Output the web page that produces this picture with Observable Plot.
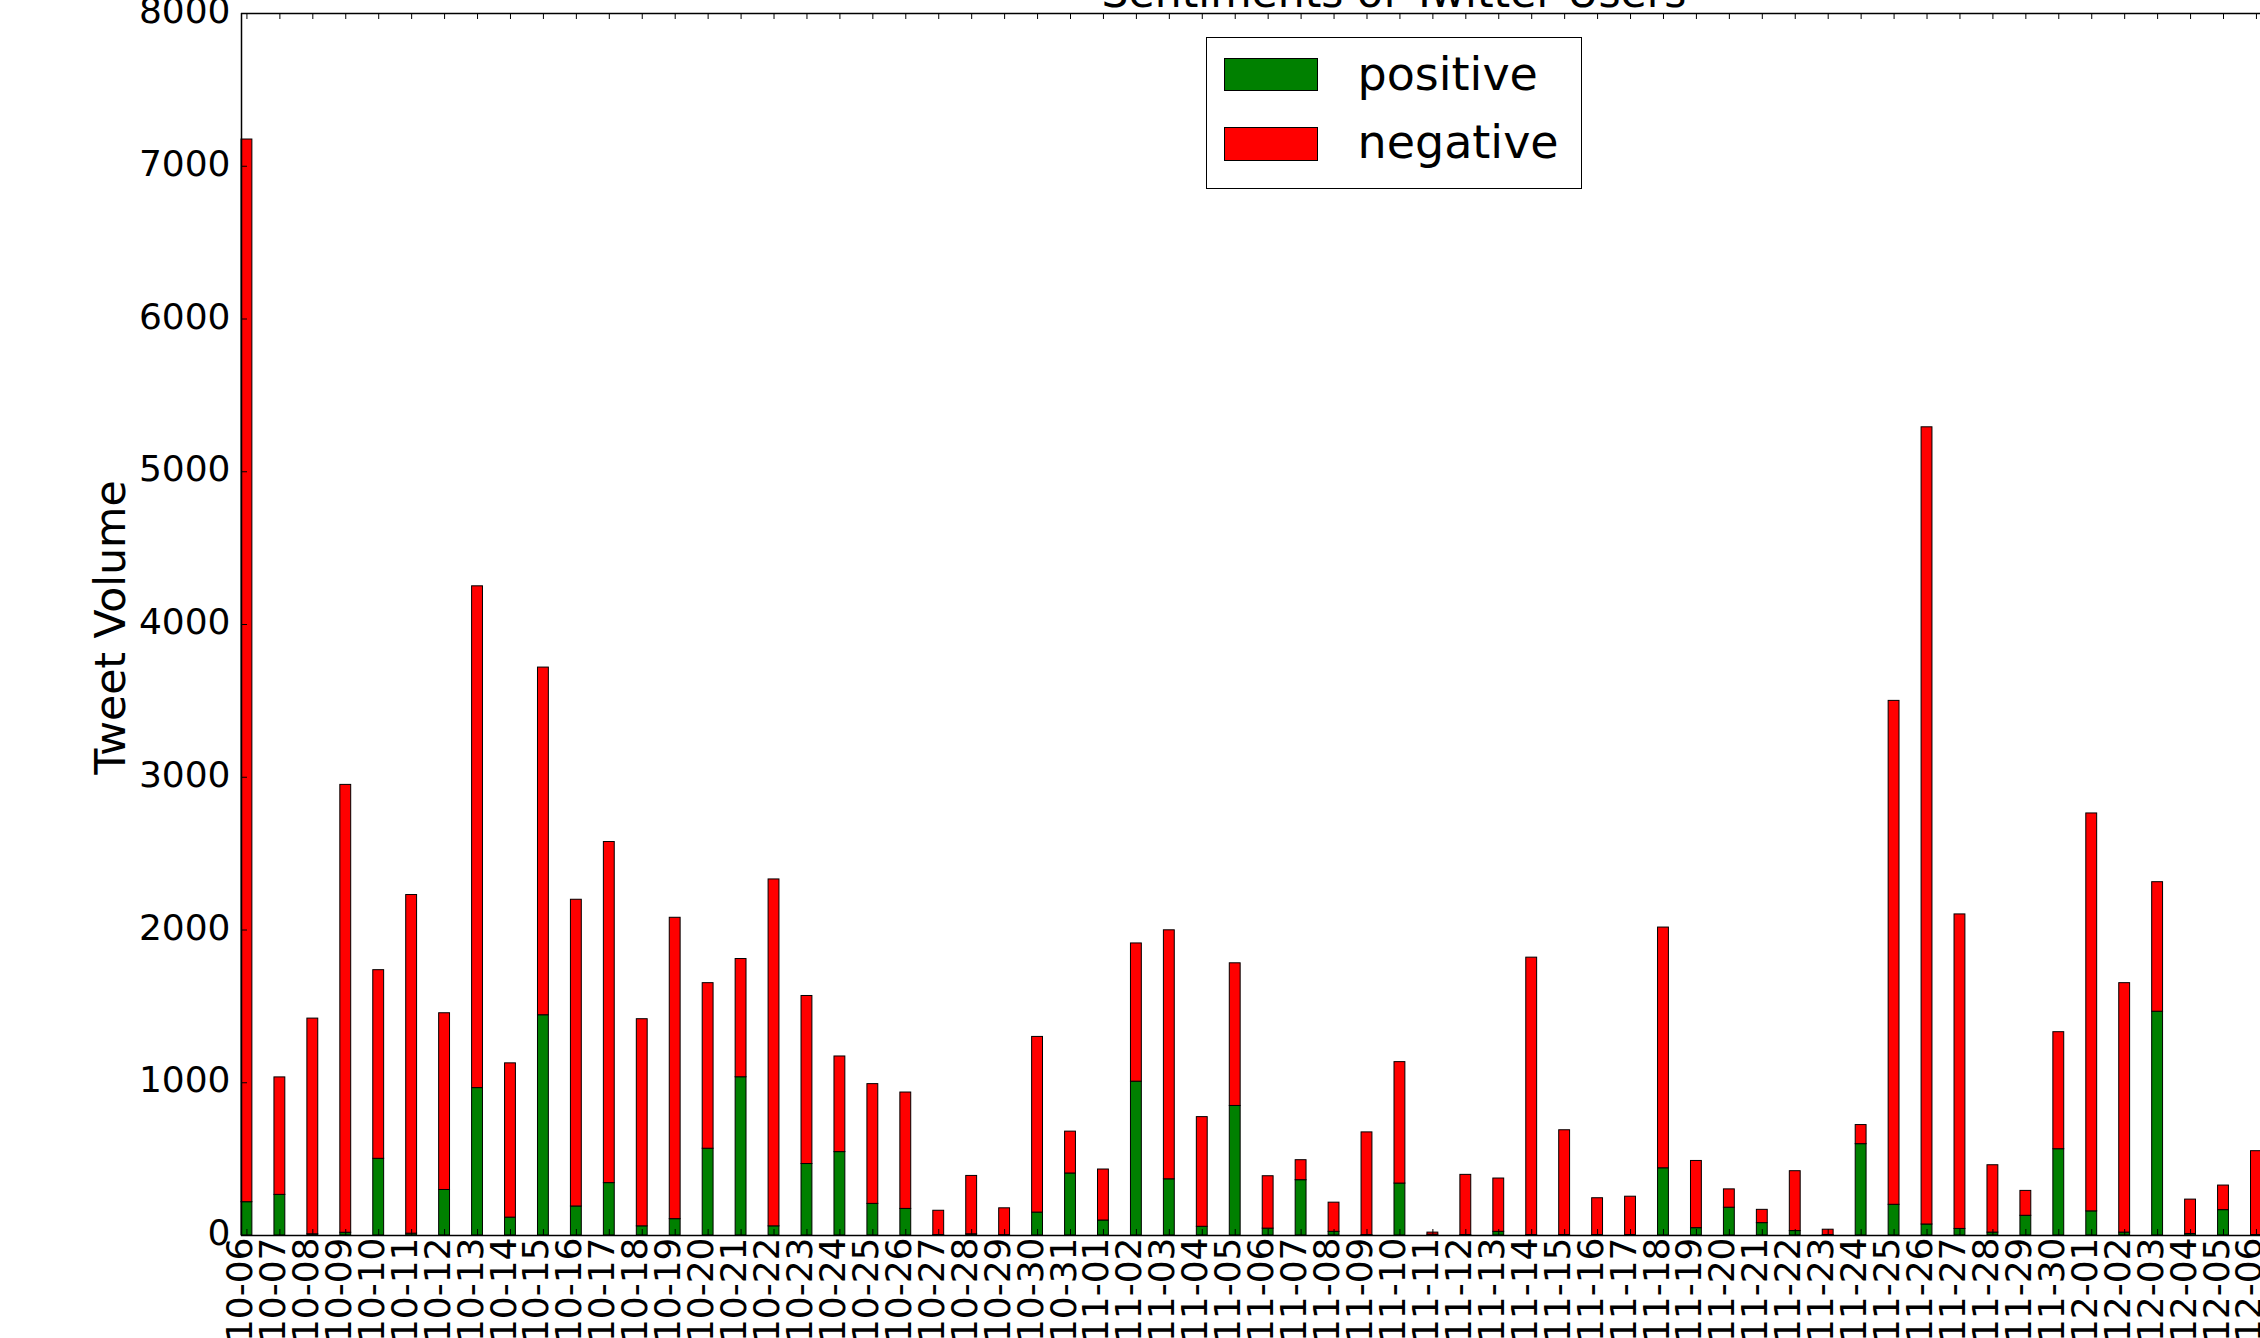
<!DOCTYPE html>
<html>
<head>
<meta charset="utf-8">
<script src="https://cdn.jsdelivr.net/npm/d3@7"></script>
<script src="https://cdn.jsdelivr.net/npm/@observablehq/plot@0.6"></script>
<style>
html, body { margin: 0; padding: 0; background: #fff; overflow: hidden; }
#wrap { position: relative; width: 2260px; height: 1338px; overflow: hidden; font-family: "DejaVu Sans", sans-serif; background: #fff; }
#chart svg { display: block; }
#title { position: absolute; left: 1394px; top: -28px; transform: translateX(-50%); font-size: 42.5px; line-height: 42.5px; white-space: nowrap; color: #000; }
#legend { position: absolute; left: 1205.7px; top: 36.7px; width: 376px; height: 152.3px; border: 1.5px solid #000; box-sizing: border-box; background: #fff; }
.patch { position: absolute; left: 17.1px; width: 94.7px; height: 33.4px; border: 1px solid #000; box-sizing: border-box; }
.ltext { position: absolute; left: 150.8px; font-size: 46px; line-height: 46px; white-space: nowrap; color: #000; }
</style>
</head>
<body>
<div id="wrap">
  <div id="chart"></div>
  <div id="title">Sentiments of Twitter Users</div>
  <div id="legend">
    <div class="patch" style="top:20.1px;background:#008000"></div>
    <div class="ltext" style="top:13.6px">positive</div>
    <div class="patch" style="top:89.5px;background:#ff0000"></div>
    <div class="ltext" style="top:81.2px">negative</div>
  </div>
</div>
<script>
const dates = [
  "10-06","10-07","10-08","10-09","10-10","10-11","10-12","10-13","10-14","10-15",
  "10-16","10-17","10-18","10-19","10-20","10-21","10-22","10-23","10-24","10-25",
  "10-26","10-27","10-28","10-29","10-30","10-31","11-01","11-02","11-03","11-04",
  "11-05","11-06","11-07","11-08","11-09","11-10","11-11","11-12","11-13","11-14",
  "11-15","11-16","11-17","11-18","11-19","11-20","11-21","11-22","11-23","11-24",
  "11-25","11-26","11-27","11-28","11-29","11-30","12-01","12-02","12-03","12-04",
  "12-05","12-06"
];
const positive = [
  218,266,8,18,502,12,298,965,117,1442,
  190,343,60,107,568,1036,60,468,546,207,
  174,3,8,2,150,406,98,1007,368,57,
  848,45,362,24,3,340,5,3,24,3,
  3,3,3,440,48,182,81,29,3,598,
  201,72,43,19,129,565,158,19,1465,10,
  166,3
];
const negative = [
  6957,769,1412,2932,1235,2217,1157,3285,1010,2276,
  2008,2233,1356,1973,1084,774,2271,1100,626,784,
  762,159,382,176,1150,274,334,905,1630,718,
  934,343,131,191,672,795,14,394,349,1816,
  686,241,251,1576,440,120,87,392,35,125,
  3299,5219,2059,441,163,766,2605,1633,848,225,
  161,549
];
const yTicks = [0,1000,2000,3000,4000,5000,6000,7000,8000];
const xDomain = [0, 70];
const seriesLabels = ["positive", "negative"];
const yLabel = "Tweet Volume";

const rows = dates.map((date, i) => ({i, date, pos: positive[i], neg: negative[i]}));

const W = 2260, H = 1338, mT = 13, mB = 103, mL = 241, xRight = 2547;
const plotH = H - mT - mB;
const plotW = W - mL;
const tickLen = 6;
const barWidth = 0.33;
const FONT = "DejaVu Sans";

const chart = Plot.plot({
  width: W,
  height: H,
  marginTop: mT,
  marginBottom: mB,
  marginLeft: mL,
  marginRight: 0,
  style: {fontFamily: FONT, overflow: "hidden", background: "#fff", color: "#000"},
  x: {type: "linear", domain: xDomain, range: [mL, xRight], axis: null},
  y: {type: "linear", domain: [0, 8000], axis: null},
  marks: [
    Plot.rectY(rows, {x1: "i", x2: d => d.i + barWidth, y1: 0, y2: "pos", fill: "#008000", stroke: "#000", strokeWidth: 1}),
    Plot.rectY(rows, {x1: "i", x2: d => d.i + barWidth, y1: "pos", y2: d => d.pos + d.neg, fill: "#ff0000", stroke: "#000", strokeWidth: 1}),
    Plot.ruleX(rows, {x: d => d.i + barWidth / 2, insetTop: plotH - tickLen, stroke: "#000", strokeWidth: 1}),
    Plot.ruleX(rows, {x: d => d.i + barWidth / 2, insetBottom: plotH - tickLen, stroke: "#000", strokeWidth: 1}),
    Plot.ruleY(yTicks, {y: d => d, insetRight: plotW - tickLen, stroke: "#000", strokeWidth: 1}),
    Plot.ruleY([0, 8000], {stroke: "#000", strokeWidth: 1.5}),
    Plot.ruleX([0], {stroke: "#000", strokeWidth: 1.5}),
    Plot.axisY({ticks: yTicks, tickSize: 0, tickPadding: 11, tickFormat: d => String(d), fontSize: 36, label: null, dy: -2}),
    Plot.text(rows, {x: d => d.i + barWidth / 2, text: "date", frameAnchor: "bottom", rotate: -90, textAnchor: "end", lineAnchor: "middle", dy: 2, dx: -6.5, fontSize: 36, fill: "#000"}),
    Plot.text([yLabel], {text: d => d, frameAnchor: "left", textAnchor: "middle", lineAnchor: "middle", rotate: -90, dx: -130, dy: 3, fontSize: 42.5, fill: "#000"})
  ]
});
document.getElementById("chart").appendChild(chart);
</script>
</body>
</html>
